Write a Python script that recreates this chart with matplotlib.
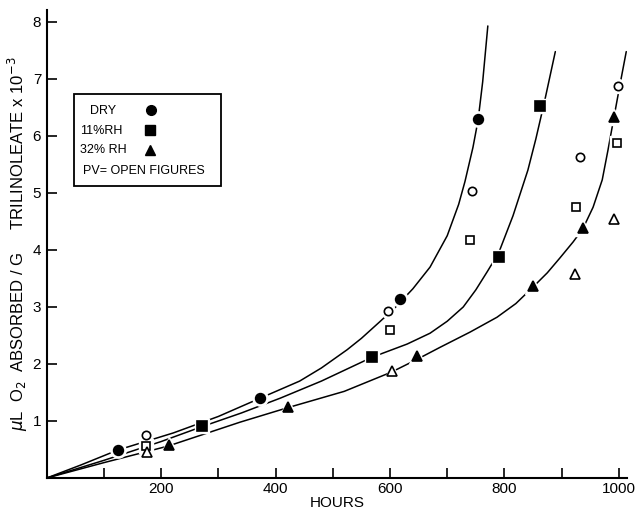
import matplotlib
matplotlib.use("Agg")
import matplotlib.pyplot as plt
from matplotlib.patches import Rectangle

plt.rcParams['font.family'] = ['Liberation Sans', 'DejaVu Sans']

# measured points (hours, uL O2 / g x 1e-3)
dry_hours = [124, 373, 618, 754]
dry_vals = [0.49, 1.40, 3.14, 6.30]
dry_pv_hours = [173, 597, 743, 932, 998]
dry_pv_vals = [0.75, 2.93, 5.04, 5.63, 6.88]

rh11_hours = [271, 569, 791, 862]
rh11_vals = [0.91, 2.13, 3.88, 6.52]
rh11_pv_hours = [173, 600, 740, 925, 997]
rh11_pv_vals = [0.56, 2.60, 4.18, 4.75, 5.87]

rh32_hours = [213, 421, 647, 850, 937, 991]
rh32_vals = [0.58, 1.24, 2.14, 3.36, 4.38, 6.34]
rh32_pv_hours = [175, 603, 923, 991]
rh32_pv_vals = [0.46, 1.88, 3.58, 4.54]

# hand-drawn fitted curves
dry_curve_h = [0, 60, 124, 221, 300, 373, 442, 480, 525, 550, 582, 610, 640, 670,
               700, 720, 731, 745, 754, 762, 771]
dry_curve_v = [0, 0.23, 0.49, 0.79, 1.08, 1.40, 1.70, 1.93, 2.25, 2.45, 2.74, 3.00, 3.32, 3.70,
               4.25, 4.80, 5.20, 5.80, 6.28, 6.95, 7.93]
rh11_curve_h = [0, 100, 200, 271, 340, 408, 480, 569, 630, 670, 700, 728, 750, 770,
                790, 815, 841, 855, 870, 889]
rh11_curve_v = [0, 0.31, 0.64, 0.90, 1.14, 1.40, 1.70, 2.12, 2.35, 2.54, 2.75, 3.00, 3.30, 3.62,
                3.95, 4.60, 5.40, 5.95, 6.60, 7.48]
rh32_curve_h = [0, 100, 212, 338, 420, 520, 603, 647, 687, 740, 787, 820, 850, 875,
                897, 920, 937, 955, 971, 981, 991, 1002, 1013]
rh32_curve_v = [0, 0.27, 0.56, 0.98, 1.23, 1.52, 1.86, 2.08, 2.29, 2.56, 2.82, 3.06, 3.35, 3.60,
                3.86, 4.14, 4.37, 4.75, 5.23, 5.75, 6.30, 6.90, 7.48]

W, H = 641, 513
fig = plt.figure(figsize=(W / 100, H / 100), dpi=100)
ax = fig.add_axes([46.8 / W, 35 / H, 580.6 / W, 468 / H])

def px(x, y):
    # pixel position in the picture -> figure fraction
    return x / W, (H - y) / H

for h, v in [(dry_curve_h, dry_curve_v), (rh11_curve_h, rh11_curve_v), (rh32_curve_h, rh32_curve_v)]:
    ax.plot(h, v, color='black', lw=1.1, solid_capstyle='round', solid_joinstyle='round', zorder=2)

series = [
    (dry_hours, dry_vals, 'o', 'black', 7),
    (rh11_hours, rh11_vals, 's', 'black', 6.5),
    (rh32_hours, rh32_vals, '^', 'black', 7.5),
    (dry_pv_hours, dry_pv_vals, 'o', 'white', 6),
    (rh11_pv_hours, rh11_pv_vals, 's', 'white', 5.5),
    (rh32_pv_hours, rh32_pv_vals, '^', 'white', 6.5),
]
# white halos so the curves break around the points
for h, v, m, fc, ms in series:
    ax.plot(h, v, ls='none', marker=m, ms=ms + 4, mfc='white', mec='white', zorder=3)
for h, v, m, fc, ms in series:
    ax.plot(h, v, ls='none', marker=m, ms=ms, mfc=fc, mec='black', mew=1.2, zorder=4)

ax.set_xlim(0, 1015)
ax.set_ylim(0, 8.21)
ax.spines['top'].set_visible(False)
ax.spines['right'].set_visible(False)
ax.spines['left'].set_linewidth(1.5)
ax.spines['bottom'].set_linewidth(1.5)

ax.set_xticks([100, 200, 300, 400, 500, 600, 700, 800, 900, 1000])
ax.set_xticklabels(['', '200', '', '400', '', '600', '', '800', '', '1000'])
ax.set_yticks([1, 2, 3, 4, 5, 6, 7, 8])
ax.set_yticklabels(['1', '2', '3', '4', '5', '6', '7', '8'])
ax.tick_params(direction='in', length=7, width=1.2, labelsize=11, pad=3)
ax.tick_params(axis='y', pad=4)

ax.set_xlabel('HOURS', fontsize=11, labelpad=0)
ax.set_ylabel('$\\mu$L  O$_2$  ABSORBED / G     TRILINOLEATE x 10$^{-3}$', fontsize=12, labelpad=2)

# legend box drawn by hand
x0, y0 = px(74, 186)
x1, y1 = px(221, 94)
fig.add_artist(Rectangle((x0, y0), x1 - x0, y1 - y0, transform=fig.transFigure,
                         fill=False, ec='black', lw=1.3))
for txt, (tx, ty) in [('DRY', (90, 111)), ('11%RH', (80, 131)), ('32% RH', (80, 150)),
                      ('PV= OPEN FIGURES', (83, 171))]:
    fx, fy = px(tx, ty)
    fig.text(fx, fy, txt, fontsize=9, ha='left', va='center')
for m, ms, (mx, my) in [('o', 7, (151, 110)), ('s', 6.5, (150, 130)), ('^', 7.5, (150, 150))]:
    fx, fy = px(mx, my)
    fig.add_artist(plt.Line2D([fx], [fy], marker=m, ms=ms, color='black', transform=fig.transFigure))

fig.savefig('out.png', dpi=100)
